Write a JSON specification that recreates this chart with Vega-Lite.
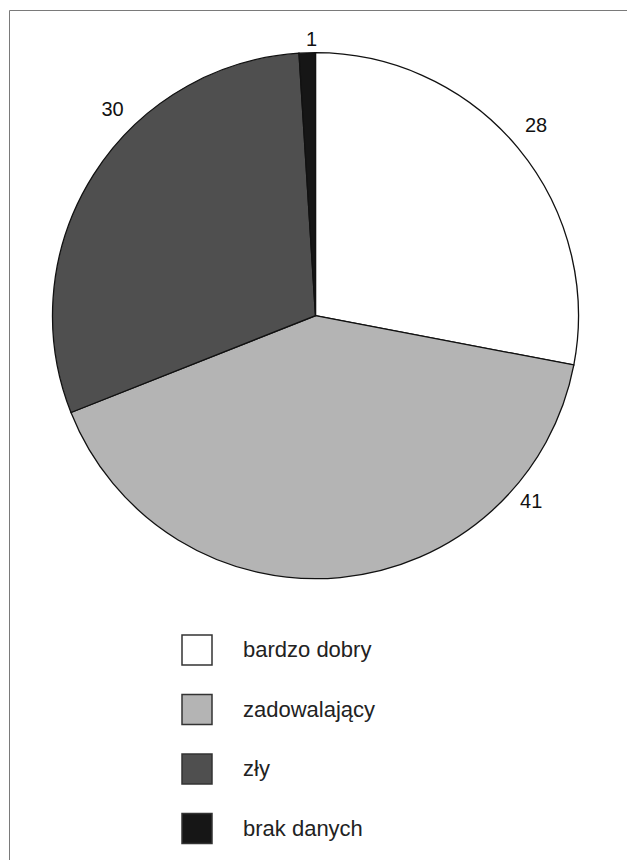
{
  "$schema": "https://vega.github.io/schema/vega-lite/v6.json",
  "autosize": {"type": "none"},
  "padding": {"left": 9, "top": 10, "right": 0, "bottom": 0},
  "width": 618,
  "height": 850,
  "background": "white",
  "config": {
    "view": {"stroke": "#7a7a7a", "strokeWidth": 1},
    "font": "Liberation Sans"
  },
  "data": {
    "values": [
      {"stan": "bardzo dobry", "udzial": 28},
      {"stan": "zadowalający", "udzial": 41},
      {"stan": "zły", "udzial": 30},
      {"stan": "brak danych", "udzial": 1}
    ]
  },
  "transform": [
    {"stack": "udzial", "groupby": [], "as": ["u0", "u1"]}
  ],
  "layer": [
    {
      "mark": {"type": "arc", "stroke": "#111111", "strokeWidth": 1.3, "radius": 263},
      "encoding": {
        "x": {"value": 306.5},
        "y": {"value": 305.7},
        "theta": {"field": "u0", "type": "quantitative", "scale": {"domain": [0, 100], "range": [0, 6.283185]}},
        "theta2": {"field": "u1"},
        "color": {
          "field": "stan",
          "type": "nominal",
          "scale": {
            "domain": ["bardzo dobry", "zadowalający", "zły", "brak danych"],
            "range": ["#ffffff", "#b4b4b4", "#4f4f4f", "#161616"]
          },
          "legend": {
            "title": null,
            "orient": "none",
            "legendX": 172,
            "legendY": 624,
            "padding": 0,
            "symbolType": "square",
            "symbolSize": 900,
            "symbolStrokeColor": "#333333",
            "symbolStrokeWidth": 1.5,
            "symbolOpacity": 1,
            "labelFont": "Liberation Sans",
            "labelFontSize": 22,
            "labelColor": "#222222",
            "labelOffset": 30,
            "labelLimit": 300,
            "rowPadding": 23.5
          }
        }
      }
    },
    {
      "transform": [{"filter": "datum.stan === 'bardzo dobry'"}],
      "mark": {"type": "text", "radius": 291, "thetaOffset": 0.860, "fontSize": 20, "color": "#111111", "align": "center", "baseline": "middle"},
      "encoding": {
        "x": {"value": 306.5},
        "y": {"value": 305.7},
        "theta": {"field": "u0", "type": "quantitative"},
        "text": {"field": "udzial", "type": "quantitative"}
      }
    },
    {
      "transform": [{"filter": "datum.stan === 'zadowalający'"}],
      "mark": {"type": "text", "radius": 285, "thetaOffset": 0.5236, "fontSize": 20, "color": "#111111", "align": "center", "baseline": "middle"},
      "encoding": {
        "x": {"value": 306.5},
        "y": {"value": 305.7},
        "theta": {"field": "u0", "type": "quantitative"},
        "text": {"field": "udzial", "type": "quantitative"}
      }
    },
    {
      "transform": [{"filter": "datum.stan === 'zły'"}],
      "mark": {"type": "text", "radius": 289, "thetaOffset": 1.169, "fontSize": 20, "color": "#111111", "align": "center", "baseline": "middle"},
      "encoding": {
        "x": {"value": 306.5},
        "y": {"value": 305.7},
        "theta": {"field": "u0", "type": "quantitative"},
        "text": {"field": "udzial", "type": "quantitative"}
      }
    },
    {
      "transform": [{"filter": "datum.stan === 'brak danych'"}],
      "mark": {"type": "text", "radius": 276, "thetaOffset": 0.049, "fontSize": 20, "color": "#111111", "align": "center", "baseline": "middle"},
      "encoding": {
        "x": {"value": 306.5},
        "y": {"value": 305.7},
        "theta": {"field": "u0", "type": "quantitative"},
        "text": {"field": "udzial", "type": "quantitative"}
      }
    }
  ]
}
